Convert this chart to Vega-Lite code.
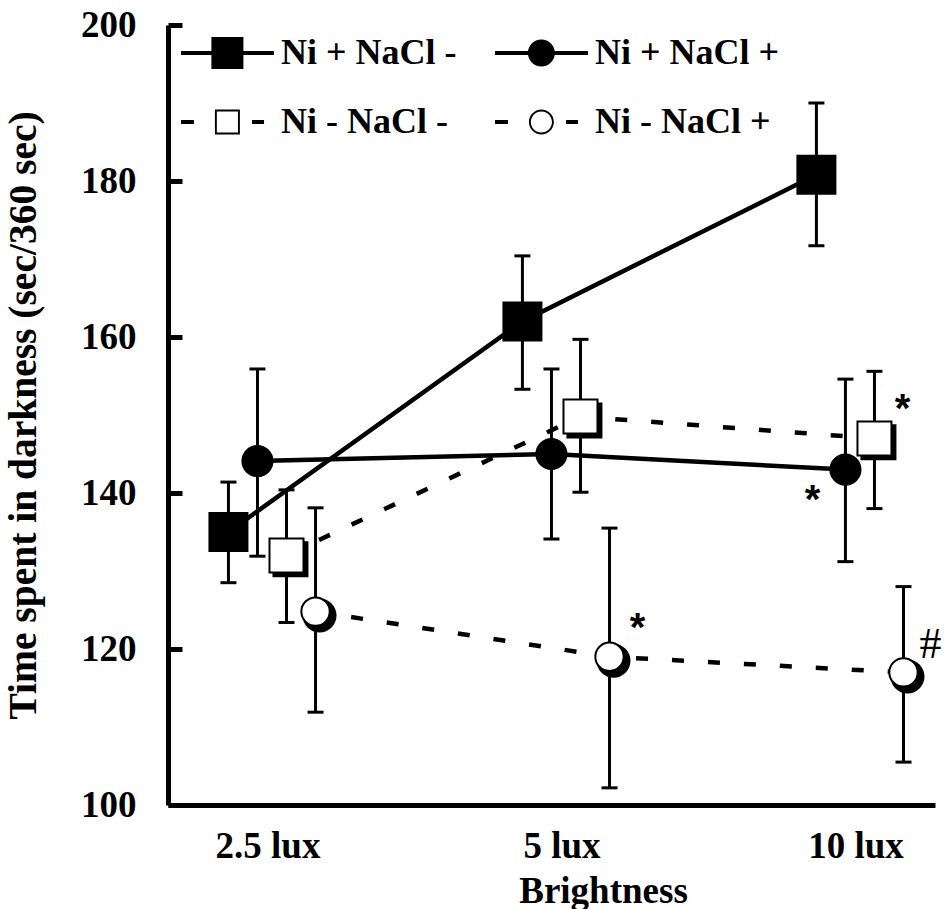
{
  "$schema": "https://vega.github.io/schema/vega-lite/v6.json",
  "autosize": {"type": "none"},
  "padding": {"left": 168, "top": 25, "right": 9, "bottom": 104},
  "width": 767,
  "height": 780,
  "config": {
    "view": {"stroke": null},
    "font": "Liberation Serif",
    "axis": {"grid": false, "domainColor": "black", "domainWidth": 5, "tickColor": "black", "labelColor": "black", "titleColor": "black", "labelFont": "Liberation Serif", "titleFont": "Liberation Serif", "labelFontWeight": "bold", "titleFontWeight": "bold", "labelFontSize": 37, "titleFontSize": 37}
  },
  "data": {
    "values": [
      {"b": "2.5 lux", "g": "Ni + NaCl -", "m": 135, "lo": 128.5, "hi": 141.4},
      {"b": "5 lux", "g": "Ni + NaCl -", "m": 162, "lo": 153.3, "hi": 170.4},
      {"b": "10 lux", "g": "Ni + NaCl -", "m": 180.8, "lo": 171.7, "hi": 190},
      {"b": "2.5 lux", "g": "Ni + NaCl +", "m": 144.1, "lo": 131.9, "hi": 155.9},
      {"b": "5 lux", "g": "Ni + NaCl +", "m": 145, "lo": 134.1, "hi": 155.9},
      {"b": "10 lux", "g": "Ni + NaCl +", "m": 143, "lo": 131.2, "hi": 154.6, "sig": "*"},
      {"b": "2.5 lux", "g": "Ni - NaCl -", "m": 132, "lo": 123.4, "hi": 140.4},
      {"b": "5 lux", "g": "Ni - NaCl -", "m": 149.8, "lo": 140.1, "hi": 159.7},
      {"b": "10 lux", "g": "Ni - NaCl -", "m": 147, "lo": 138, "hi": 155.6, "sig": "*"},
      {"b": "2.5 lux", "g": "Ni - NaCl +", "m": 124.8, "lo": 111.9, "hi": 138.1},
      {"b": "5 lux", "g": "Ni - NaCl +", "m": 119, "lo": 102.2, "hi": 135.5, "sig": "*"},
      {"b": "10 lux", "g": "Ni - NaCl +", "m": 117, "lo": 105.5, "hi": 128, "sig": "#"}
    ]
  },
  "encoding": {
    "x": {
      "field": "b", "type": "nominal",
      "scale": {"domain": ["2.5 lux", "5 lux", "10 lux"], "paddingInner": 0.605, "paddingOuter": 0.107, "align": 0.73},
      "axis": {"title": "Brightness", "labelAngle": 0, "ticks": false, "tickSize": 0, "labelPadding": 52, "labelBaseline": "alphabetic", "labelOffset": -4, "titleX": 435, "titleY": 97, "titleBaseline": "alphabetic", "titleAlign": "center", "titleAnchor": null}
    },
    "xOffset": {
      "field": "g", "type": "nominal",
      "scale": {"domain": ["Ni + NaCl -", "Ni + NaCl +", "Ni - NaCl -", "Ni - NaCl +"], "paddingInner": 0, "paddingOuter": 0}
    },
    "y": {
      "field": "m", "type": "quantitative",
      "scale": {"domain": [100, 200], "nice": false, "zero": false},
      "axis": {"title": "Time spent in darkness (sec/360 sec)", "values": [100, 120, 140, 160, 180, 200], "tickSize": -14, "tickWidth": 5, "labelPadding": 46, "titleX": -133, "titleY": 390, "titleBaseline": "alphabetic", "titleAlign": "center", "titleAngle": -90, "titleFontSize": 39.5, "titleAnchor": null}
    }
  },
  "layer": [
    {
      "mark": {"type": "rule", "color": "black", "strokeWidth": 3},
      "encoding": {"y": {"field": "lo", "type": "quantitative"}, "y2": {"field": "hi"}}
    },
    {
      "mark": {"type": "tick", "color": "black", "size": 16, "thickness": 3, "opacity": 1},
      "encoding": {"y": {"field": "lo", "type": "quantitative"}}
    },
    {
      "mark": {"type": "tick", "color": "black", "size": 16, "thickness": 3, "opacity": 1},
      "encoding": {"y": {"field": "hi", "type": "quantitative"}}
    },
    {
      "transform": [{"filter": "indexof(['Ni + NaCl -', 'Ni + NaCl +'], datum.g) >= 0"}],
      "mark": {"type": "line", "color": "black", "strokeWidth": 4.5},
      "encoding": {"detail": {"field": "g"}, "order": {"value": null}}
    },
    {
      "transform": [{"filter": "indexof(['Ni - NaCl -', 'Ni - NaCl +'], datum.g) >= 0"}],
      "mark": {"type": "line", "color": "black", "strokeWidth": 4.5, "strokeDash": [12, 24]},
      "encoding": {"detail": {"field": "g"}, "order": {"value": null}}
    },
    {
      "transform": [{"filter": "datum.g === 'Ni - NaCl -'"}],
      "mark": {"type": "point", "filled": true, "color": "black", "opacity": 1, "size": 1296, "shape": "M -0.78 -0.78 H 1.22 V 1.22 H -0.78 Z"}
    },
    {
      "transform": [{"filter": "datum.g === 'Ni - NaCl +'"}],
      "mark": {"type": "point", "filled": true, "color": "black", "opacity": 1, "size": 1156, "shape": "M 1.235 0.235 A 1 1 0 1 1 -0.765 0.235 A 1 1 0 1 1 1.235 0.235 Z"}
    },
    {
      "mark": {"type": "point", "filled": true, "opacity": 1, "stroke": "black", "strokeWidth": 2},
      "encoding": {
        "shape": {
          "condition": {"test": "datum.g === 'Ni + NaCl -' || datum.g === 'Ni - NaCl -'", "value": "square"},
          "value": "circle"
        },
        "fill": {
          "condition": {"test": "indexof(['Ni + NaCl -', 'Ni + NaCl +'], datum.g) >= 0", "value": "black"},
          "value": "white"
        },
        "size": {
          "condition": [
            {"test": "datum.g === 'Ni + NaCl -'", "value": 1444},
            {"test": "datum.g === 'Ni - NaCl -'", "value": 1156},
            {"test": "datum.g === 'Ni - NaCl +'", "value": 804}
          ],
          "value": 908
        }
      }
    },
    {
      "transform": [{"filter": "false"}],
      "mark": {"type": "point", "filled": true, "color": "black", "opacity": 1},
      "encoding": {
        "shape": {
          "field": "g", "type": "nominal",
          "scale": {
            "domain": ["Ni + NaCl -", "Ni + NaCl +", "Ni - NaCl -", "Ni - NaCl +"],
            "range": [
              "M -1 -0.125 H 4.81 V 0.125 H -1 Z M 0.9 -1 H 2.9 V 1 H 0.9 Z",
              "M -1 -0.125 H 4.81 V 0.125 H -1 Z M 2.744 0 A 0.844 0.844 0 1 1 1.056 0 A 0.844 0.844 0 1 1 2.744 0 Z",
              "M -1 -0.125 H -0.19 V 0.125 H -1 Z M 3.44 -0.125 H 4.19 V 0.125 H 3.44 Z M 1.12 -0.78 H 2.68 V 0.78 H 1.12 Z M 1.24 -0.66 V 0.66 H 2.56 V -0.66 Z",
              "M -1 -0.125 H -0.19 V 0.125 H -1 Z M 3.44 -0.125 H 4.19 V 0.125 H 3.44 Z M 2.68 0 A 0.78 0.78 0 1 1 1.12 0 A 0.78 0.78 0 1 1 2.68 0 Z M 2.56 0 A 0.66 0.66 0 1 0 1.24 0 A 0.66 0.66 0 1 0 2.56 0 Z"
            ]
          },
          "legend": {
            "title": null, "orient": "none", "legendX": 11, "legendY": 10, "direction": "horizontal", "columns": 2,
            "columnPadding": 36, "rowPadding": 33, "padding": 0, "symbolSize": 1024, "labelOffset": 66,
            "symbolStrokeWidth": 0, "symbolFillColor": "black", "symbolOpacity": 1,
            "labelFont": "Liberation Serif", "labelFontSize": 36, "labelFontWeight": "bold", "labelColor": "black", "labelLimit": 600
          }
        }
      }
    },
    {
      "transform": [{"filter": "datum.sig === '*' && datum.g === 'Ni + NaCl +'"}],
      "mark": {"type": "text", "font": "Liberation Sans", "fontWeight": "bold", "fontSize": 40, "color": "black", "align": "center", "baseline": "alphabetic", "dx": -33, "dy": 43},
      "encoding": {"text": {"field": "sig"}}
    },
    {
      "transform": [{"filter": "datum.sig === '*' && datum.g !== 'Ni + NaCl +'"}],
      "mark": {"type": "text", "font": "Liberation Sans", "fontWeight": "bold", "fontSize": 40, "color": "black", "align": "center", "baseline": "alphabetic", "dx": 28, "dy": -16},
      "encoding": {"text": {"field": "sig"}}
    },
    {
      "transform": [{"filter": "datum.sig === '#'"}],
      "mark": {"type": "text", "font": "Liberation Serif", "fontSize": 44, "color": "black", "align": "center", "baseline": "alphabetic", "dx": 27, "dy": -14},
      "encoding": {"text": {"field": "sig"}}
    }
  ]
}
